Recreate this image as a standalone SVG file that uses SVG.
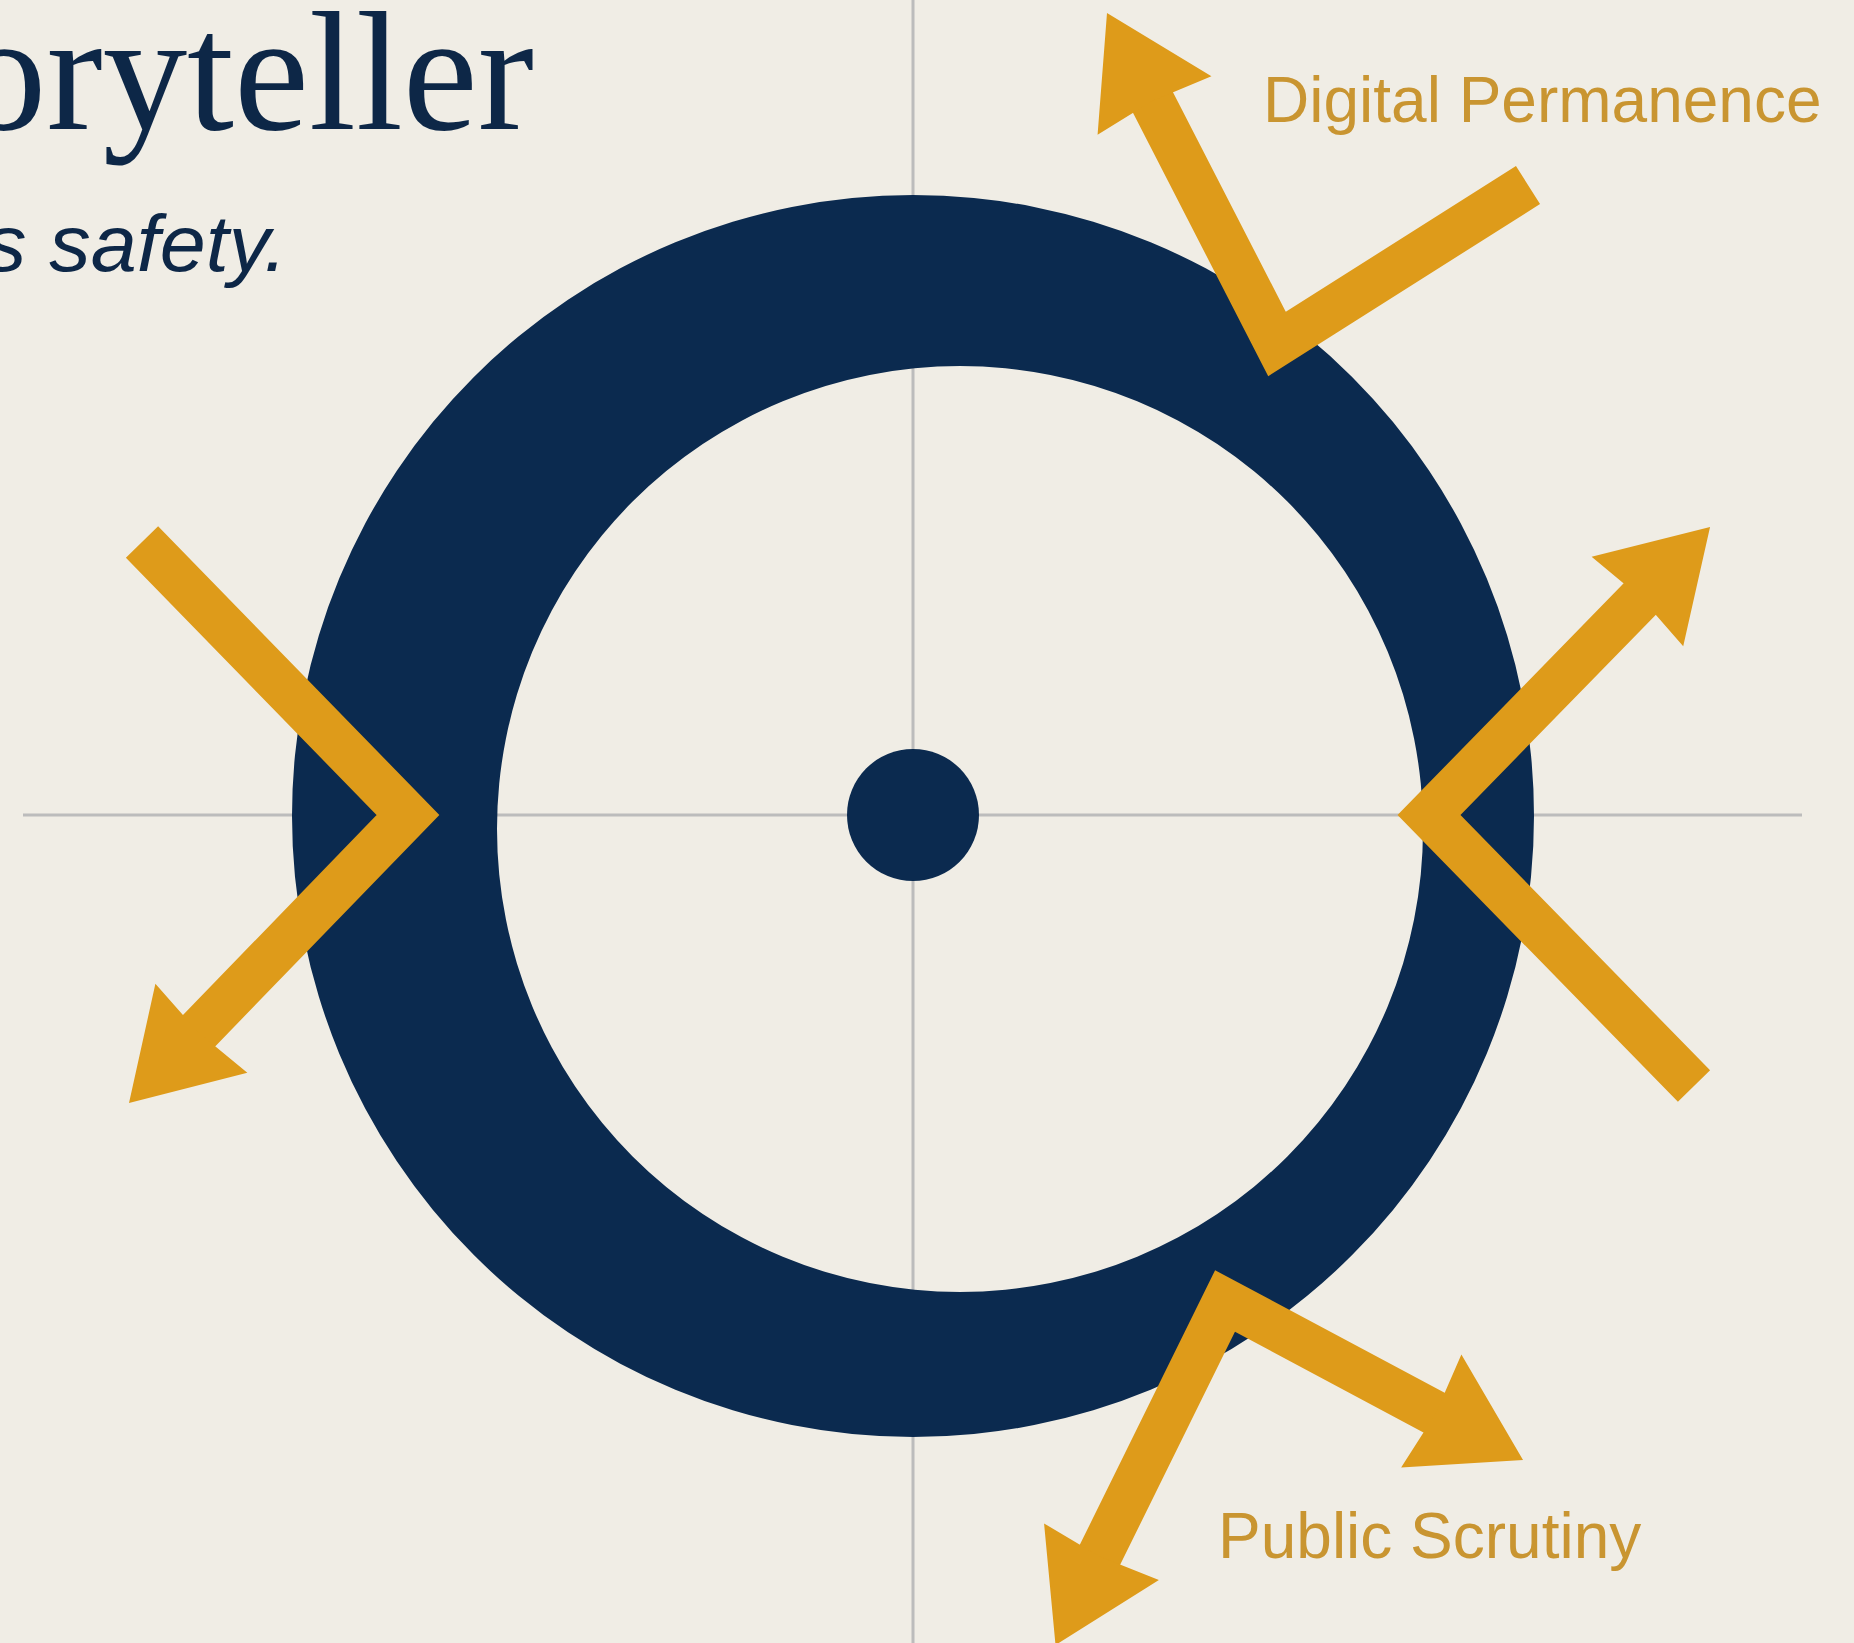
<svg xmlns="http://www.w3.org/2000/svg" width="1854" height="1643" viewBox="0 0 1854 1643">
  <style>
    .grid { stroke: #bcbcbc; stroke-width: 3; fill: none; }
    .navy { fill: #0b2a4f; }
    .arrow { fill: none; stroke: #de9b1a; stroke-width: 45; stroke-linejoin: miter; stroke-miterlimit: 10; stroke-linecap: butt; }
    .label { font-family: "Liberation Sans", Arial, sans-serif; font-size: 64px; fill: #c99531; }
    .title { font-family: "Liberation Serif", "Times New Roman", serif; font-size: 170px; fill: #0d2747; }
    .subtitle { font-family: "Liberation Sans", Arial, sans-serif; font-style: italic; font-size: 80px; fill: #0d2747; }
  </style>
  <defs>
    <marker id="ah" markerUnits="userSpaceOnUse" orient="auto-start-reverse" markerWidth="220" markerHeight="160" refX="0" refY="0" viewBox="-20 -80 220 160" overflow="visible">
      <path d="M95,0 L-9,-64 L-4,0 L-9,64 Z" fill="#de9b1a"/>
    </marker>
  </defs>

  <rect id="background" x="0" y="0" width="1854" height="1643" fill="#f0ede5"/>

  <g id="grid">
    <line class="grid" x1="913" y1="0" x2="913" y2="1643"/>
    <line class="grid" x1="23" y1="815" x2="1802" y2="815"/>
  </g>

  <g id="title">
    <text class="title" x="-38" y="129" textLength="572" lengthAdjust="spacingAndGlyphs">oryteller</text>
    <text class="subtitle" x="-15" y="271" textLength="302" lengthAdjust="spacingAndGlyphs">s safety.</text>
  </g>

  <g id="ring">
    <path class="navy" fill-rule="evenodd" d="M292,816 A621,621 0 1,0 1534,816 A621,621 0 1,0 292,816 Z M497,829 A463,463 0 1,1 1423,829 A463,463 0 1,1 497,829 Z"/>
  </g>

  <g id="center-dot">
    <circle class="navy" cx="913" cy="815" r="66"/>
  </g>

  <g id="connectors">
    <path id="arrow-digital-permanence" class="arrow" d="M1528,185 L1277,344 L1150.4,97.5" marker-end="url(#ah)"/>
    <path id="arrow-left" class="arrow" d="M142,542 L408,815 L195.1,1034.8" marker-end="url(#ah)"/>
    <path id="arrow-right" class="arrow" d="M1694,1086 L1429,815 L1643.7,595" marker-end="url(#ah)"/>
    <path id="arrow-public-scrutiny" class="arrow" d="M1097.5,1559.8 L1225,1301 L1439.2,1415.3" marker-start="url(#ah)" marker-end="url(#ah)"/>
  </g>

  <g id="label-digital-permanence">
    <text class="label" x="1263" y="122">Digital Permanence</text>
  </g>
  <g id="label-public-scrutiny">
    <text class="label" x="1218" y="1558">Public Scrutiny</text>
  </g>
</svg>
